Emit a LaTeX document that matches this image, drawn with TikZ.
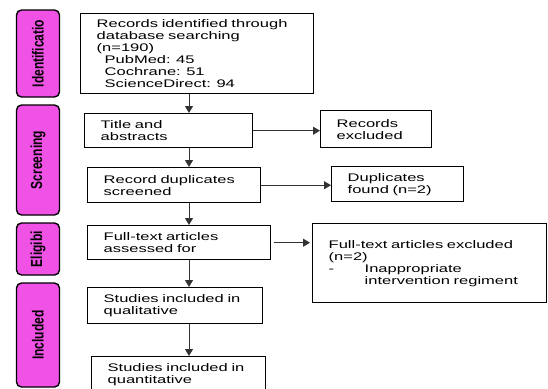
\documentclass[tikz,border=0pt]{standalone}
\usepackage{fontspec}
\setmainfont{Liberation Sans}[FakeStretch=1.5]
\newfontfamily\tabfont{Liberation Sans}[FakeStretch=0.75]
\usepackage{tikz}
\usetikzlibrary{arrows.meta}
\definecolor{tabpink}{RGB}{240,82,230}

\begin{document}
\begin{tikzpicture}[%
    x=1bp, y=-1bp,
    >={Triangle[length=7bp,width=8bp]},
    font=\fontsize{11bp}{12bp}\selectfont,
box/.style={draw, line width=1.4bp, anchor=north west, align=left, inner xsep=16bp, inner ysep=0pt},
tab/.style={draw, line width=1.4bp, fill=tabpink, rounded corners=5bp, rotate=90, minimum height=43bp, font=\tabfont\fontsize{16bp}{16bp}\selectfont\bfseries},
flow/.style={->, line width=1bp, color=black!80}
  ]
    \useasboundingbox (0,0) rectangle (548,388);

    \node[tab, minimum width=87bp] (a) at (38,53.5) {Identificatio};
    \node[tab, minimum width=110bp] (b) at (38,160) {Screening};
    \node[tab, minimum width=52bp] (c) at (38,249) {Eligibi};
    \node[tab, minimum width=104bp] (d) at (38,335) {Included};

    \node[box, text width=201bp, minimum height=80bp] (1) at (80,13) {Records identified through\\database searching\\(n=190)\\\hspace*{8bp}PubMed: 45\\\hspace*{8bp}Cochrane: 51\\\hspace*{8bp}ScienceDirect: 94};

    \node[box, text width=136bp, minimum height=34bp] (2) at (84,113) {Title and\\abstracts};

    \node[box, text width=79bp, minimum height=37bp] (3) at (320,110) {Records\\excluded};

    \node[box, text width=141bp, minimum height=35bp] (4) at (87,167) {Record duplicates\\screened};

    \node[box, text width=100bp, minimum height=35bp] (5) at (331,166) {Duplicates\\found (n=2)};

    \node[box, text width=151bp, minimum height=34bp] (6) at (87,225) {Full-text articles\\assessed for};

    \node[box, text width=202bp, minimum height=79bp] (7) at (312,223) {Full-text articles excluded\\(n=2)\\\makebox[36bp][l]{-}Inappropriate\\\hspace*{36bp}intervention regiment};

    \node[box, text width=143bp, minimum height=36bp] (8) at (87,287) {Studies included in\\qualitative};

    \node[box, text width=142bp, minimum height=36bp] (9) at (91,356) {Studies included in\\quantitative};

    \coordinate (spine) at (189,0);
    \coordinate (gap) at ([xshift=3bp]6.east);

    \path[flow] (1.south -| spine) edge (2.north -| spine)
          (2.south -| spine) edge (4.north -| spine)
          (4.south -| spine) edge (6.north -| spine)
          (6.south -| spine) edge (8.north -| spine)
          (8.south -| spine) edge (9.north -| spine)
          (2.east) edge (2.east -| 3.west)
          (4.east) edge (4.east -| 5.west)
          (gap) edge ([xshift=-2bp]gap -| 7.west)
          ;
  \end{tikzpicture}
\end{document}
